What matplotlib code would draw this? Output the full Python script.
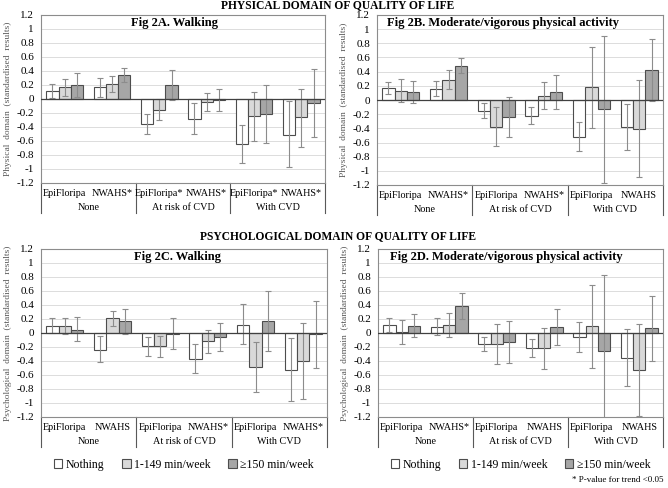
import numpy as np
import matplotlib
matplotlib.use("Agg")
import matplotlib.pyplot as plt

plt.rcParams['font.family'] = ['Liberation Serif', 'DejaVu Serif']

groups = ["None", "At risk of CVD", "With CVD"]
series = ["Nothing", "1-149 min/week", "\u2265150 min/week"]
yticks = [1.2, 1, 0.8, 0.6, 0.4, 0.2, 0, -0.2, -0.4, -0.6, -0.8, -1, -1.2]

# Fig 2A - walking, physical domain
a_labels = ["EpiFloripa", "NWAHS*", "EpiFloripa*", "NWAHS*", "EpiFloripa*", "NWAHS*"]
a_mean = [[0.12, 0.17, -0.36, -0.28, -0.64, -0.51],
          [0.17, 0.22, -0.15, -0.04, -0.24, -0.26],
          [0.20, 0.35, 0.20, -0.02, -0.22, -0.06]]
a_lo = [[0.02, 0.03, -0.50, -0.50, -0.91, -0.97],
        [0.05, 0.10, -0.30, -0.17, -0.60, -0.68],
        [0.03, 0.24, -0.02, -0.17, -0.63, -0.54]]
a_hi = [[0.22, 0.30, -0.22, -0.06, -0.37, -0.03],
        [0.28, 0.33, 0.00, 0.08, 0.10, 0.15],
        [0.37, 0.45, 0.42, 0.15, 0.20, 0.43]]

# Fig 2B - moderate/vigorous, physical domain
b_labels = ["EpiFloripa", "NWAHS*", "EpiFloripa", "NWAHS*", "EpiFloripa", "NWAHS"]
b_mean = [[0.17, 0.16, -0.15, -0.22, -0.52, -0.38],
          [0.13, 0.28, -0.38, 0.06, 0.19, -0.41],
          [0.11, 0.48, -0.24, 0.11, -0.13, 0.42]]
b_lo = [[0.08, 0.05, -0.26, -0.34, -0.72, -0.70],
        [-0.03, 0.16, -0.65, -0.13, -0.39, -1.09],
        [-0.04, 0.38, -0.52, -0.13, -1.17, -0.02]]
b_hi = [[0.26, 0.27, -0.04, -0.10, -0.31, -0.05],
        [0.30, 0.42, -0.10, 0.26, 0.75, 0.28],
        [0.27, 0.59, 0.04, 0.35, 0.91, 0.86]]

# Fig 2C - walking, psychological domain
c_labels = ["EpiFloripa", "NWAHS", "EpiFloripa", "NWAHS*", "EpiFloripa", "NWAHS*"]
c_mean = [[0.10, -0.24, -0.19, -0.37, 0.12, -0.53],
          [0.10, 0.21, -0.19, -0.12, -0.49, -0.40],
          [0.05, 0.17, -0.01, -0.05, 0.17, -0.02]]
c_lo = [[0.00, -0.42, -0.33, -0.57, -0.15, -0.97],
        [-0.02, 0.10, -0.34, -0.29, -0.84, -0.94],
        [-0.12, -0.02, -0.23, -0.26, -0.25, -0.50]]
c_hi = [[0.21, -0.04, -0.05, -0.15, 0.41, -0.07],
        [0.22, 0.32, -0.04, 0.05, -0.13, 0.15],
        [0.23, 0.35, 0.22, 0.15, 0.60, 0.46]]

# Fig 2D - moderate/vigorous, psychological domain
d_labels = ["EpiFloripa", "NWAHS*", "EpiFloripa", "NWAHS", "EpiFloripa", "NWAHS"]
d_mean = [[0.11, 0.09, -0.16, -0.21, -0.06, -0.36],
          [0.02, 0.12, -0.15, -0.22, 0.10, -0.53],
          [0.10, 0.38, -0.13, 0.09, -0.25, 0.07]]
d_lo = [[0.02, -0.03, -0.26, -0.34, -0.27, -0.76],
        [-0.15, -0.05, -0.44, -0.51, -0.50, -1.18],
        [-0.06, 0.20, -0.43, -0.17, -1.25, -0.40]]
d_hi = [[0.21, 0.21, -0.05, -0.08, 0.16, 0.06],
        [0.19, 0.28, 0.13, 0.07, 0.69, 0.13],
        [0.27, 0.57, 0.17, 0.35, 0.83, 0.53]]

colors = ["#ffffff", "#d9d9d9", "#a6a6a6"]
W, H = 668, 488
fig = plt.figure(figsize=(W / 100, H / 100), dpi=100)


def panel(rect, title, tx, ylabel, labels, mean, lo, hi, legend=False):
    l, t, r, b = rect
    ax = fig.add_axes([l / W, 1 - b / H, (r - l) / W, (b - t) / H])
    x = np.arange(6)
    w = 0.26
    for i in range(3):
        m = np.array(mean[i])
        err = [m - np.array(lo[i]), np.array(hi[i]) - m]
        ax.bar(x + (i - 1) * w, m, w, color=colors[i], edgecolor="#4d4d4d",
               linewidth=0.8, zorder=3, label=series[i])
        ax.errorbar(x + (i - 1) * w, m, yerr=err, fmt="none", ecolor="#8c8c8c",
                    elinewidth=0.8, capsize=2.2, capthick=0.8, zorder=4)
    ax.axhline(0, color="#404040", lw=0.9, zorder=5)
    ax.set_xlim(-0.5, 5.5)
    ax.set_ylim(-1.2, 1.2)
    ax.set_yticks(yticks)
    ax.set_yticklabels([("%g" % v) for v in yticks], fontsize=8)
    ax.tick_params(axis="y", length=0, pad=5)
    ax.set_xticks([])
    ax.grid(axis="y", color="#dcdcdc", lw=0.7, zorder=0)
    for s in ax.spines.values():
        s.set_color("#8c8c8c")
        s.set_linewidth(0.8)
    ax.set_ylabel(ylabel, fontsize=6.8, color="#595959", labelpad=3)
    ax.text(tx, 0.955, title, transform=ax.transAxes, ha="center", va="center",
            fontsize=9, fontweight="bold")
    tr = ax.get_xaxis_transform()
    dy = 1.0 / (b - t)
    for k, lab in enumerate(labels):
        ax.text(k, -10 * dy, lab, transform=tr, ha="center", va="center", fontsize=7.3)
    for k, g in enumerate(groups):
        ax.text(2 * k + 0.5, -25 * dy, g, transform=tr, ha="center", va="center", fontsize=7.3)
    for xv in [-0.5, 1.5, 3.5, 5.5]:
        ax.plot([xv, xv], [0, -30 * dy], transform=tr, color="#595959", lw=0.8, clip_on=False)
    if legend:
        ax.legend(loc="upper center", bbox_to_anchor=(0.5, -37 * dy), ncol=3, frameon=False,
                  fontsize=8.5, handlelength=0.7, handleheight=0.7, handletextpad=0.3,
                  columnspacing=1.5, borderaxespad=0)
    return ax


panel((41, 15, 325, 183), "Fig 2A. Walking", 0.47,
      "Physical  domain  (standardised  results)", a_labels, a_mean, a_lo, a_hi)
panel((377, 15, 663, 185), "Fig 2B. Moderate/vigorous physical activity", 0.44,
      "Physical  domain  (standardised  results)", b_labels, b_mean, b_lo, b_hi)
panel((41, 249, 327, 417), "Fig 2C. Walking", 0.476,
      "Psychological  domain  (standardised  results)", c_labels, c_mean, c_lo, c_hi, legend=True)
panel((378, 249, 663, 417), "Fig 2D. Moderate/vigorous physical activity", 0.45,
      "Psychological  domain  (standardised  results)", d_labels, d_mean, d_lo, d_hi, legend=True)

fig.text(338 / W, 1 - 5.5 / H, "PHYSICAL DOMAIN OF QUALITY OF LIFE", ha="center", va="center",
         fontsize=8.3, fontweight="bold")
fig.text(338 / W, 1 - 236 / H, "PSYCHOLOGICAL DOMAIN OF QUALITY OF LIFE", ha="center", va="center",
         fontsize=8.3, fontweight="bold")
fig.text(663 / W, 1 - 480 / H, "* P-value for trend <0.05", ha="right", va="center", fontsize=6.5)

fig.savefig("out.png", dpi=100)
